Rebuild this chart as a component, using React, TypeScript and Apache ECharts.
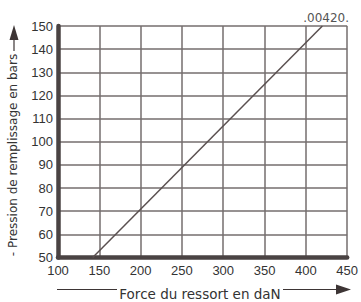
import React, { useEffect, useRef } from "react";
import * as echarts from "echarts";

const xTicks = [100, 150, 200, 250, 300, 350, 400, 450];
const yTicks = [50, 60, 70, 80, 90, 100, 110, 120, 130, 140, 150];
const lineForce = [142, 420];
const linePressure = [50, 150];
const xName = "Force du ressort en daN";
const yName = "- Pression de remplissage en bars";
const refLabel = ".00420.";

const FONT = "DejaVu Sans";
const TICKFONT = "Liberation Sans";

export default function App() {
  const ref = useRef<HTMLDivElement>(null);
  useEffect(() => {
    if (!ref.current) return;
    const chart = echarts.init(ref.current, null, { renderer: "svg" });
    const data = lineForce.map((f, i) => [f, linePressure[i]]);
    chart.setOption({
      animation: false,
      backgroundColor: "#ffffff",
      grid: { left: 58, right: 12, top: 26, bottom: 44.5 },
      xAxis: {
        type: "value",
        min: xTicks[0],
        max: xTicks[xTicks.length - 1],
        interval: 50,
        axisLine: { show: true, onZero: false, lineStyle: { color: "#4a4343", width: 4.5 } },
        axisTick: { show: false },
        axisLabel: { color: "#333333", fontFamily: TICKFONT, fontSize: 13, margin: 6 },
        splitLine: { show: true, lineStyle: { color: "#746e6e", width: 1.5 } },
      },
      yAxis: {
        type: "value",
        min: yTicks[0],
        max: yTicks[yTicks.length - 1],
        interval: 10,
        axisLine: { show: true, onZero: false, lineStyle: { color: "#4a4343", width: 4.5 } },
        axisTick: { show: false },
        axisLabel: { color: "#333333", fontFamily: TICKFONT, fontSize: 13, margin: 5 },
        splitLine: { show: true, lineStyle: { color: "#746e6e", width: 1.5 } },
      },
      series: [
        {
          type: "line",
          data,
          symbol: "none",
          lineStyle: { color: "#5a5050", width: 1.5 },
          clip: true,
        },
      ],
      graphic: [
        {
          type: "text",
          x: 13,
          y: 155,
          rotation: Math.PI / 2,
          style: {
            text: yName,
            fontFamily: FONT,
            fontSize: 12,
            fill: "#333333",
            align: "center",
            verticalAlign: "middle",
          },
        },
        {
          type: "line",
          shape: { x1: 14, y1: 39, x2: 14, y2: 51 },
          style: { stroke: "#3d3535", lineWidth: 1.2 },
        },
        {
          type: "polygon",
          shape: { points: [[14, 25], [9.5, 40], [18.5, 40]] },
          style: { fill: "#3d3535" },
        },
        {
          type: "text",
          x: 200,
          y: 294,
          style: {
            text: xName,
            fontFamily: FONT,
            fontSize: 13.5,
            fill: "#333333",
            align: "center",
            verticalAlign: "middle",
          },
        },
        {
          type: "line",
          shape: { x1: 57, y1: 289.5, x2: 117, y2: 289.5 },
          style: { stroke: "#3d3535", lineWidth: 1.2 },
        },
        {
          type: "line",
          shape: { x1: 283, y1: 289.5, x2: 338, y2: 289.5 },
          style: { stroke: "#3d3535", lineWidth: 1.2 },
        },
        {
          type: "polygon",
          shape: { points: [[351, 289.5], [336, 284.5], [336, 294.5]] },
          style: { fill: "#3d3535" },
        },
        {
          type: "text",
          x: 349,
          y: 17.5,
          style: {
            text: refLabel,
            fontFamily: FONT,
            fontSize: 12,
            fill: "#555555",
            align: "right",
            verticalAlign: "middle",
          },
        },
      ],
    });
    return () => chart.dispose();
  }, []);
  return <div ref={ref} style={{ width: 361, height: 302, position: "absolute", left: 0, top: 0 }} />;
}
